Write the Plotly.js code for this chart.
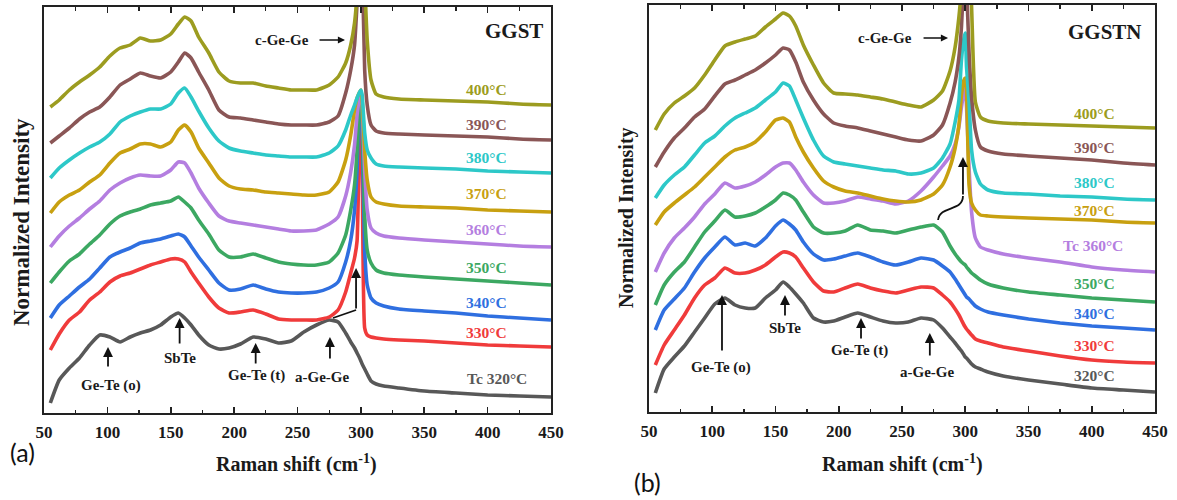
<!DOCTYPE html>
<html><head><meta charset="utf-8">
<script src="https://cdn.plot.ly/plotly-3.0.1.min.js"></script>
<style>html,body{margin:0;padding:0;background:#fff}#chart{width:1177px;height:500px}</style>
</head><body><div id="chart"></div>
<script>
// Raman shift grid (cm-1)
const ramanShift = [55, 62, 70, 78, 86, 94, 102, 110, 118, 126, 134, 142, 150, 156, 161, 166, 172, 180, 188, 196, 205, 215, 225, 235, 245, 255, 265, 275, 282, 288, 292, 295, 297, 299, 300, 301, 303, 305, 308, 312, 318, 330, 350, 375, 400, 425, 450];

// (a) GGST, offset normalized intensity
const ggst320 = [10, 33, 45, 55, 68, 78, 76, 71, 76, 80, 83, 88, 96, 100, 95, 88, 78, 68, 64, 65, 69, 76, 74, 70, 72, 81, 88, 93, 91, 80, 71, 65, 60, 55, 52, 49, 44, 39, 32, 29, 27, 25, 22, 20, 18, 17, 16];
const ggst330 = [63, 79, 93, 101, 113, 121, 131, 137, 140, 144, 148, 151, 154, 154, 151, 141, 130, 116, 105, 100, 101, 103, 99, 94, 93, 93, 93, 96, 103, 121, 140, 155, 172, 283, 298, 253, 85, 78, 76, 75, 74, 73, 72, 70, 68, 67, 66];
const ggst340 = [95, 108, 117, 126, 134, 145, 156, 161, 165, 170, 172, 174, 177, 179, 176, 167, 156, 143, 130, 123, 124, 128, 124, 121, 120, 120, 121, 125, 131, 151, 173, 203, 243, 313, 320, 283, 163, 128, 115, 110, 107, 104, 102, 100, 97, 95, 93];
const ggst350 = [130, 141, 152, 159, 169, 178, 189, 197, 201, 204, 208, 210, 212, 216, 211, 205, 193, 179, 163, 156, 156, 159, 155, 151, 149, 148, 148, 151, 160, 178, 203, 228, 263, 313, 318, 298, 198, 163, 150, 143, 140, 138, 136, 134, 132, 130, 128];
const ggst360 = [166, 177, 187, 195, 204, 212, 223, 230, 235, 238, 237, 237, 243, 251, 250, 240, 225, 210, 197, 192, 190, 188, 186, 184, 182, 182, 183, 189, 196, 217, 241, 268, 298, 316, 320, 308, 243, 203, 185, 180, 177, 175, 173, 171, 169, 167, 166];
const ggst370 = [200, 211, 218, 223, 231, 238, 250, 260, 264, 269, 269, 266, 271, 283, 288, 281, 265, 250, 235, 227, 224, 223, 221, 220, 219, 218, 218, 221, 231, 253, 278, 303, 315, 321, 323, 313, 263, 233, 216, 211, 209, 207, 206, 205, 203, 202, 201];
const ggst380 = [235, 245, 253, 260, 266, 271, 279, 291, 297, 301, 304, 304, 309, 320, 325, 316, 302, 285, 272, 265, 262, 260, 258, 257, 256, 256, 256, 260, 267, 283, 298, 308, 315, 321, 323, 318, 280, 263, 255, 249, 247, 246, 245, 244, 242, 241, 240];
const ggst390 = [270, 277, 285, 294, 301, 306, 316, 328, 334, 340, 337, 335, 341, 351, 360, 355, 341, 323, 303, 296, 295, 293, 291, 289, 288, 288, 288, 291, 297, 320, 343, 368, 410, 460, 480, 455, 343, 308, 288, 282, 280, 279, 278, 277, 276, 274, 273];
const ggst400 = [306, 313, 323, 331, 338, 346, 357, 365, 368, 375, 372, 373, 379, 389, 396, 392, 376, 360, 341, 332, 330, 330, 327, 325, 323, 323, 323, 328, 336, 350, 368, 390, 420, 480, 500, 470, 430, 373, 333, 319, 316, 314, 313, 312, 311, 309, 308];

// (b) GGSTN
const ggstn320 = [19, 43, 55, 66, 80, 94, 108, 114, 107, 104, 104, 114, 122, 130, 125, 118, 109, 94, 90, 91, 95, 99, 95, 91, 89, 90, 94, 92, 84, 75, 69, 64, 61, 57, 55, 54, 51, 48, 45, 43, 40, 36, 32, 28, 24, 22, 20];
const ggstn330 = [47, 67, 82, 97, 114, 127, 134, 144, 139, 139, 142, 147, 155, 160, 159, 155, 144, 130, 121, 120, 124, 128, 124, 121, 119, 122, 125, 124, 117, 110, 103, 97, 92, 87, 85, 83, 80, 77, 73, 71, 69, 65, 61, 56, 52, 50, 49];
const ggstn340 = [82, 102, 113, 124, 140, 154, 165, 175, 167, 169, 166, 174, 186, 192, 188, 182, 170, 158, 152, 153, 156, 159, 155, 150, 147, 150, 154, 152, 146, 140, 133, 127, 123, 119, 117, 115, 113, 110, 106, 103, 100, 97, 93, 89, 86, 84, 82];
const ggstn350 = [107, 127, 140, 150, 165, 180, 191, 202, 195, 196, 199, 205, 212, 219, 217, 212, 200, 185, 179, 179, 181, 187, 182, 181, 179, 182, 185, 187, 180, 166, 158, 153, 150, 148, 147, 145, 142, 139, 136, 132, 128, 124, 120, 117, 114, 112, 110];
const ggstn360 = [140, 159, 174, 184, 195, 208, 218, 229, 224, 226, 230, 237, 245, 249, 249, 242, 230, 217, 209, 209, 211, 215, 213, 211, 208, 211, 221, 235, 246, 256, 268, 285, 305, 320, 324, 305, 245, 200, 174, 165, 162, 158, 154, 150, 145, 142, 140];
const ggstn370 = [187, 200, 209, 217, 225, 235, 245, 255, 262, 265, 270, 280, 292, 294, 290, 275, 260, 244, 231, 225, 221, 219, 216, 213, 211, 210, 212, 218, 227, 245, 264, 287, 317, 332, 334, 322, 227, 209, 202, 197, 196, 195, 194, 193, 192, 190, 189];
const ggstn380 = [214, 227, 237, 245, 257, 269, 276, 286, 294, 299, 304, 312, 320, 329, 326, 312, 294, 272, 256, 250, 248, 246, 244, 242, 241, 238, 239, 244, 254, 268, 290, 312, 352, 374, 379, 345, 310, 262, 240, 228, 222, 219, 218, 216, 215, 213, 212];
const ggstn390 = [245, 260, 274, 284, 295, 303, 316, 328, 332, 337, 342, 349, 357, 364, 362, 350, 330, 312, 298, 289, 286, 284, 281, 278, 275, 272, 271, 277, 287, 309, 330, 355, 385, 440, 460, 430, 360, 315, 282, 265, 261, 258, 256, 254, 252, 249, 247];
const ggstn400 = [282, 298, 309, 316, 324, 337, 352, 366, 370, 373, 376, 385, 393, 399, 396, 386, 367, 347, 329, 319, 318, 317, 315, 313, 310, 307, 305, 312, 321, 341, 365, 395, 425, 470, 490, 470, 460, 405, 310, 295, 291, 289, 288, 287, 286, 285, 284];

const xTickVals = [50, 100, 150, 200, 250, 300, 350, 400, 450];
const xTickText = ['50', '100', '150', '200', '250', '300', '350', '400', '450'];
const xMinorVals = [75, 125, 175, 225, 275, 325, 375, 425];
const labelsGGST = ['Tc 320°C', '330°C', '340°C', '350°C', '360°C', '370°C', '380°C', '390°C', '400°C'];
const labelsGGSTN = ['320°C', '330°C', '340°C', '350°C', 'Tc 360°C', '370°C', '380°C', '390°C', '400°C'];
const peakNames = ['Ge-Te (o)', 'SbTe', 'Ge-Te (t)', 'a-Ge-Ge'];

const colors = ['#585858', '#F03B3B', '#2F6FE0', '#3CA862', '#B47EE0', '#C8A010', '#2DC8C8', '#8A5656', '#9C9C20'];
const seriesA = [ggst320, ggst330, ggst340, ggst350, ggst360, ggst370, ggst380, ggst390, ggst400];
const seriesB = [ggstn320, ggstn330, ggstn340, ggstn350, ggstn360, ggstn370, ggstn380, ggstn390, ggstn400];

const traces = [];
seriesA.forEach((s, i) => traces.push({x: ramanShift, y: s, xaxis: 'x', yaxis: 'y', type: 'scatter', mode: 'lines',
  name: 'GGST ' + labelsGGST[i], line: {color: colors[i], width: 3.6, shape: 'spline', smoothing: 0.5}, showlegend: false}));
seriesB.forEach((s, i) => traces.push({x: ramanShift, y: s, xaxis: 'x2', yaxis: 'y2', type: 'scatter', mode: 'lines',
  name: 'GGSTN ' + labelsGGSTN[i], line: {color: colors[i], width: 3.6, shape: 'spline', smoothing: 0.5}, showlegend: false}));

const serif = 'Liberation Serif';
const ann = [];
const labelYA = [35, 81, 111, 146, 184, 220, 256, 289, 324];
const labelYB = [37, 67, 99, 129, 167, 202, 230, 265, 299];
labelsGGST.forEach((t, i) => ann.push({xref: 'x', yref: 'y', x: i === 0 ? 407 : 399.5, y: labelYA[i], text: '<b>' + t + '</b>',
  showarrow: false, xanchor: 'center', yanchor: 'middle', font: {family: serif, size: 15.5, color: colors[i]}}));
labelsGGSTN.forEach((t, i) => ann.push({xref: 'x2', yref: 'y2', x: i === 4 ? 401 : 401.8, y: labelYB[i], text: '<b>' + t + '</b>',
  showarrow: false, xanchor: 'center', yanchor: 'middle', font: {family: serif, size: 15.5, color: colors[i]}}));

function txt(xr, yr, x, y, t, size) {
  ann.push({xref: xr, yref: yr, x: x, y: y, text: '<b>' + t + '</b>', showarrow: false, xanchor: 'center', yanchor: 'middle',
    font: {family: serif, size: size || 15, color: '#1a1a1a'}});
}
function arr(xr, yr, x, y, ax, ay, w) {
  ann.push({xref: xr, yref: yr, x: x, y: y, ax: ax, ay: ay, text: '', showarrow: true, arrowhead: 2, arrowsize: 1.1,
    arrowwidth: w || 1.8, arrowcolor: '#111'});
}
// panel (a)
txt('x', 'y', 420.8, 382, 'GGST', 21);
txt('x', 'y', 237.4, 373, 'c-Ge-Ge', 15);
arr('x', 'y', 287.5, 373, -27, 0, 1.3);
txt('x', 'y', 102.9, 28, peakNames[0]);
arr('x', 'y', 100.5, 66, 0, 21);
txt('x', 'y', 157.3, 55, peakNames[1]);
arr('x', 'y', 157, 95, 0, 27);
txt('x', 'y', 217.3, 38, peakNames[2]);
arr('x', 'y', 217, 70, 0, 22);
txt('x', 'y', 269.3, 36, peakNames[3]);
arr('x', 'y', 275.6, 76, 0, 23);
arr('x', 'y', 296.2, 145, 0, 42);
// panel (b)
txt('x2', 'y2', 410.5, 380, 'GGSTN', 21);
txt('x2', 'y2', 236.6, 374, 'c-Ge-Ge', 15);
arr('x2', 'y2', 286.4, 374, -26, 0, 1.3);
txt('x2', 'y2', 106.9, 45, peakNames[0]);
arr('x2', 'y2', 107.7, 117, 0, 57);
txt('x2', 'y2', 157.5, 84, peakNames[1]);
arr('x2', 'y2', 157.5, 117, 0, 22);
txt('x2', 'y2', 216.8, 62, peakNames[2]);
arr('x2', 'y2', 217.6, 94, 0, 22);
txt('x2', 'y2', 269.8, 40, peakNames[3]);
arr('x2', 'y2', 272, 79, 0, 24);
arr('x2', 'y2', 298.2, 255, 0, 39);

// axis titles & panel letters
function paperText(px, py, t, font, angle) {
  ann.push({xref: 'paper', yref: 'paper', x: px / 1177, y: 1 - py / 500, text: t, textangle: angle || 0, showarrow: false,
    xanchor: 'center', yanchor: 'middle', font: font});
}
paperText(297, 463, '<b>Raman shift (cm<sup>-1</sup>)</b>', {family: serif, size: 20, color: '#1a1a1a'});
paperText(902, 463, '<b>Raman shift (cm<sup>-1</sup>)</b>', {family: serif, size: 20, color: '#1a1a1a'});
paperText(22, 222, '<b>Normalized Intensity</b>', {family: serif, size: 23, color: '#1a1a1a'}, -90);
paperText(627, 217, '<b>Normalized Intensity</b>', {family: serif, size: 20, color: '#1a1a1a'}, -90);
paperText(22, 452, '(a)', {family: 'Lato', size: 25, color: '#111'});
paperText(647, 482, '(b)', {family: 'Lato', size: 25, color: '#111'});

const shapes = [
  {type: 'line', xref: 'x', yref: 'y', x0: 278, y0: 95, x1: 296.2, y1: 103, line: {color: '#111', width: 1.8}},
  {type: 'path', xref: 'x2', yref: 'y2', path: 'M 278.5,192 C 280,207 298.2,200 298.2,216', line: {color: '#111', width: 1.8}}
];

function xax(domain, anchor) {
  return {domain: domain, anchor: anchor, range: [50, 450], tickvals: xTickVals, ticktext: xTickText.map(t => '<b>' + t + '</b>'),
    ticks: 'inside', ticklen: 6, tickwidth: 1.6,
    tickcolor: '#222', mirror: 'allticks', showline: true, linewidth: 2, linecolor: '#222', showgrid: false, zeroline: false,
    ticklabelstandoff: 3, tickfont: {family: serif, size: 17, color: '#1a1a1a', weight: 'bold'},
    minor: {tickvals: xMinorVals, ticks: 'inside', ticklen: 3.5, tickwidth: 1.3, tickcolor: '#222'}};
}
function yax(domain, anchor, top) {
  return {domain: domain, anchor: anchor, range: [0, top], showline: true, mirror: true, linewidth: 2, linecolor: '#222',
    ticks: '', showticklabels: false, showgrid: false, zeroline: false};
}

const layout = {
  width: 1177, height: 500, margin: {l: 0, r: 0, t: 0, b: 0}, paper_bgcolor: '#fff', plot_bgcolor: '#fff',
  font: {family: serif},
  xaxis: xax([44 / 1177, 551 / 1177], 'y'),
  yaxis: yax([87 / 500, 493 / 500], 'x', 406),
  xaxis2: xax([649 / 1177, 1155 / 1177], 'y2'),
  yaxis2: yax([88 / 500, 495 / 500], 'x2', 407),
  annotations: ann, shapes: shapes, showlegend: false
};
Plotly.newPlot('chart', traces, layout, {staticPlot: true, displayModeBar: false});
</script>
</body></html>
